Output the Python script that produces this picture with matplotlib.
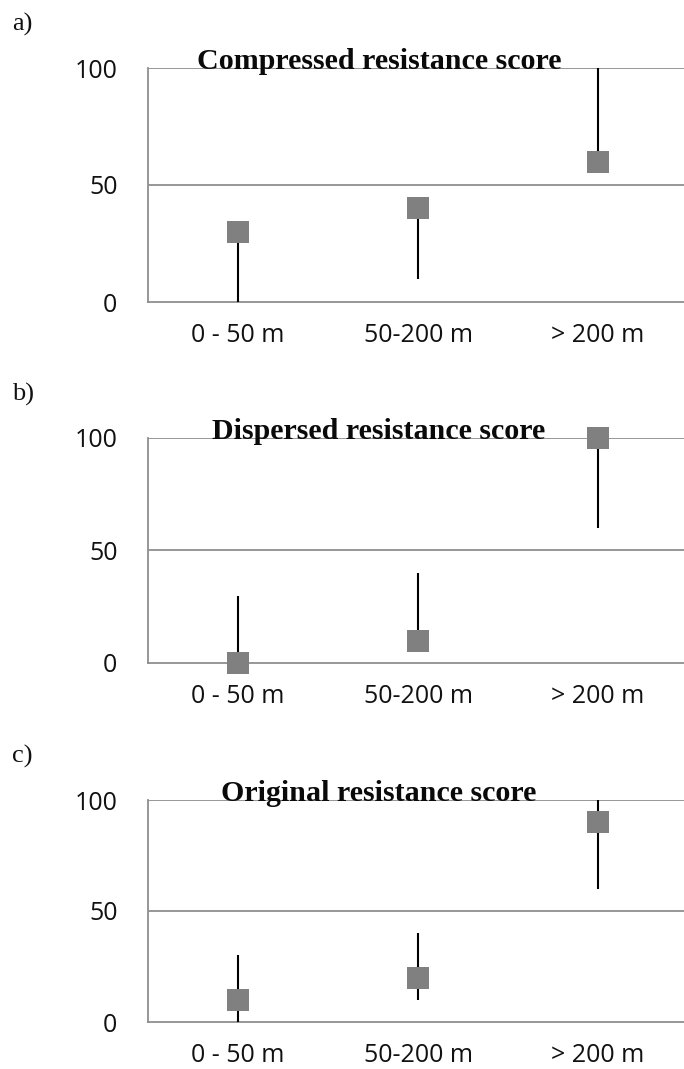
import matplotlib
matplotlib.use("Agg")
import matplotlib.pyplot as plt

categories = ["0 - 50 m", "50-200 m", "> 200 m"]
panel_labels = ["a)", "b)", "c)"]
titles = ["Compressed resistance score", "Dispersed resistance score", "Original resistance score"]
yticks = [0, 50, 100]

# square marker values
values_a = [30, 40, 60]
values_b = [0, 10, 100]
values_c = [10, 20, 90]
# range line ends
low_a = [0, 10, 60]
high_a = [30, 40, 100]
low_b = [0, 10, 60]
high_b = [30, 40, 100]
low_c = [0, 10, 60]
high_c = [30, 40, 100]

W, H = 684, 1069
fig = plt.figure(figsize=(W / 100, H / 100), dpi=100)
fig.patch.set_facecolor("white")

# axes boxes in pixels: (left, top_y100, bottom_y0)
boxes = [(148, 68, 302), (148, 438, 663), (148, 800, 1022)]
label_y = [24, 394, 756]
right_px = 688

grid_col = "#8f8f8f"
sq_col = "#808080"

panels = [
    (values_a, low_a, high_a),
    (values_b, low_b, high_b),
    (values_c, low_c, high_c),
]

for i, ((left, top, bot), (vals, lo, hi)) in enumerate(zip(boxes, panels)):
    ax = fig.add_axes([left / W, 1 - bot / H, (right_px - left) / W, (bot - top) / H])
    ax.set_facecolor("none")
    x = list(range(len(categories)))
    ax.vlines(x, lo, hi, colors="black", linewidth=1.5, zorder=3, clip_on=False)
    ax.plot(x, vals, linestyle="none", marker="s", markersize=16,
            color=sq_col, markeredgewidth=0, zorder=4, clip_on=False)
    ax.set_xlim(-0.5, 2.5)
    ax.set_ylim(0, 100)
    ax.set_yticks(yticks)
    ax.set_yticklabels([str(t) for t in yticks])
    ax.set_xticks(x)
    ax.set_xticklabels(categories)
    for s in ["top", "right"]:
        ax.spines[s].set_visible(False)
    for s in ["left", "bottom"]:
        ax.spines[s].set_color(grid_col)
        ax.spines[s].set_linewidth(1.3)
    for yv in [50, 100]:
        ax.axhline(yv, color=grid_col, linewidth=1.3, zorder=1)
    ax.tick_params(axis="both", length=0, labelsize=18, labelcolor="#111111")
    ax.tick_params(axis="y", pad=22)
    ax.tick_params(axis="x", pad=15)
    for lab in ax.get_xticklabels() + ax.get_yticklabels():
        lab.set_fontfamily("Open Sans")
    ax.text(0.428, 0.995, titles[i], transform=ax.transAxes, ha="center", va="baseline",
            fontsize=21.6, fontweight="bold", family="Liberation Serif", color="#0a0a0a",
            zorder=5)
    fig.text(12 / W, 1 - label_y[i] / H, panel_labels[i], ha="left", va="center",
             fontsize=19, family="Liberation Serif", color="#111111")

fig.savefig("out.png", dpi=100, facecolor="white")
